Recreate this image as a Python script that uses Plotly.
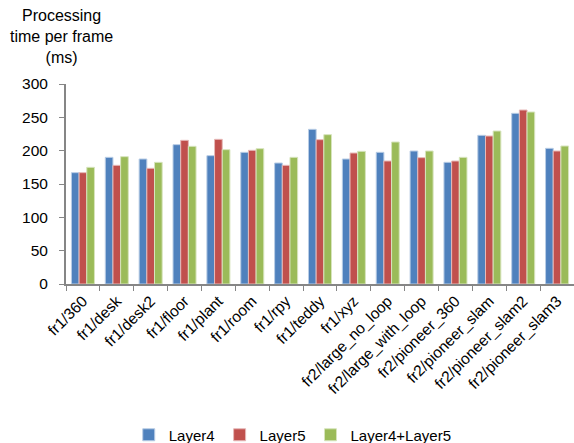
import plotly.graph_objects as go

categories = ["fr1/360", "fr1/desk", "fr1/desk2", "fr1/floor", "fr1/plant", "fr1/room",
              "fr1/rpy", "fr1/teddy", "fr1/xyz", "fr2/large_no_loop", "fr2/large_with_loop",
              "fr2/pioneer_360", "fr2/pioneer_slam", "fr2/pioneer_slam2", "fr2/pioneer_slam3"]
layer4 = [167, 190, 187.5, 209, 192.5, 197.5, 181.5, 232, 187.5, 197.5, 199.5, 182.5, 223, 256, 203.5]
layer5 = [167, 178, 173.5, 215.5, 217, 200.5, 178, 216.5, 196.5, 184.5, 189.5, 184.5, 222, 261, 199.5]
layer45 = [175, 191, 182.5, 206.5, 201.5, 203, 190, 224, 199, 213, 199.5, 190, 229.5, 258, 207]
y_ticks = [0, 50, 100, 150, 200, 250, 300]

series = [("Layer4", layer4, "#4F81BD", "#B9CDE5"),
          ("Layer5", layer5, "#C0504D", "#E6B9B8"),
          ("Layer4+Layer5", layer45, "#9BBB59", "#D7E4BD")]

fig = go.Figure()
for name, vals, col, edge in series:
    fig.add_trace(go.Bar(x=categories, y=vals, name=name, marker_color=col,
                         marker_line=dict(color=edge, width=1)))

font = "Liberation Sans, Arial, sans-serif"
fig.update_layout(
    width=574, height=443,
    margin=dict(l=66, r=0, t=84, b=159, autoexpand=False),
    paper_bgcolor="white", plot_bgcolor="white",
    barmode="group", bargap=0.32, bargroupgap=0,
    font=dict(family=font, size=15, color="#000000"),
    showlegend=True,
    legend=dict(orientation="h", xref="container", yref="container",
                x=0.51, xanchor="center", y=0.018, yanchor="middle",
                font=dict(size=15), itemwidth=30, traceorder="normal"),
    xaxis=dict(showline=True, linecolor="#868686", linewidth=2, ticks="outside",
               tickson="boundaries", tickcolor="#868686", ticklen=5, tickangle=-45,
               tickfont=dict(size=15.5), showgrid=False, automargin=False),
    yaxis=dict(range=[0, 300], tickvals=y_ticks, showline=True, linecolor="#868686",
               linewidth=2, ticks="outside", tickcolor="#868686", ticklen=5,
               ticklabelstandoff=8, automargin=False,
               showgrid=False, zeroline=False, tickfont=dict(size=15.5)),
)
fig.add_annotation(text="Processing<br>time per frame<br>(ms)", xref="paper", yref="paper",
                   x=-0.008, y=1.395, xanchor="center", yanchor="top", showarrow=False,
                   font=dict(size=16), align="center")
fig.write_html("out.html")
